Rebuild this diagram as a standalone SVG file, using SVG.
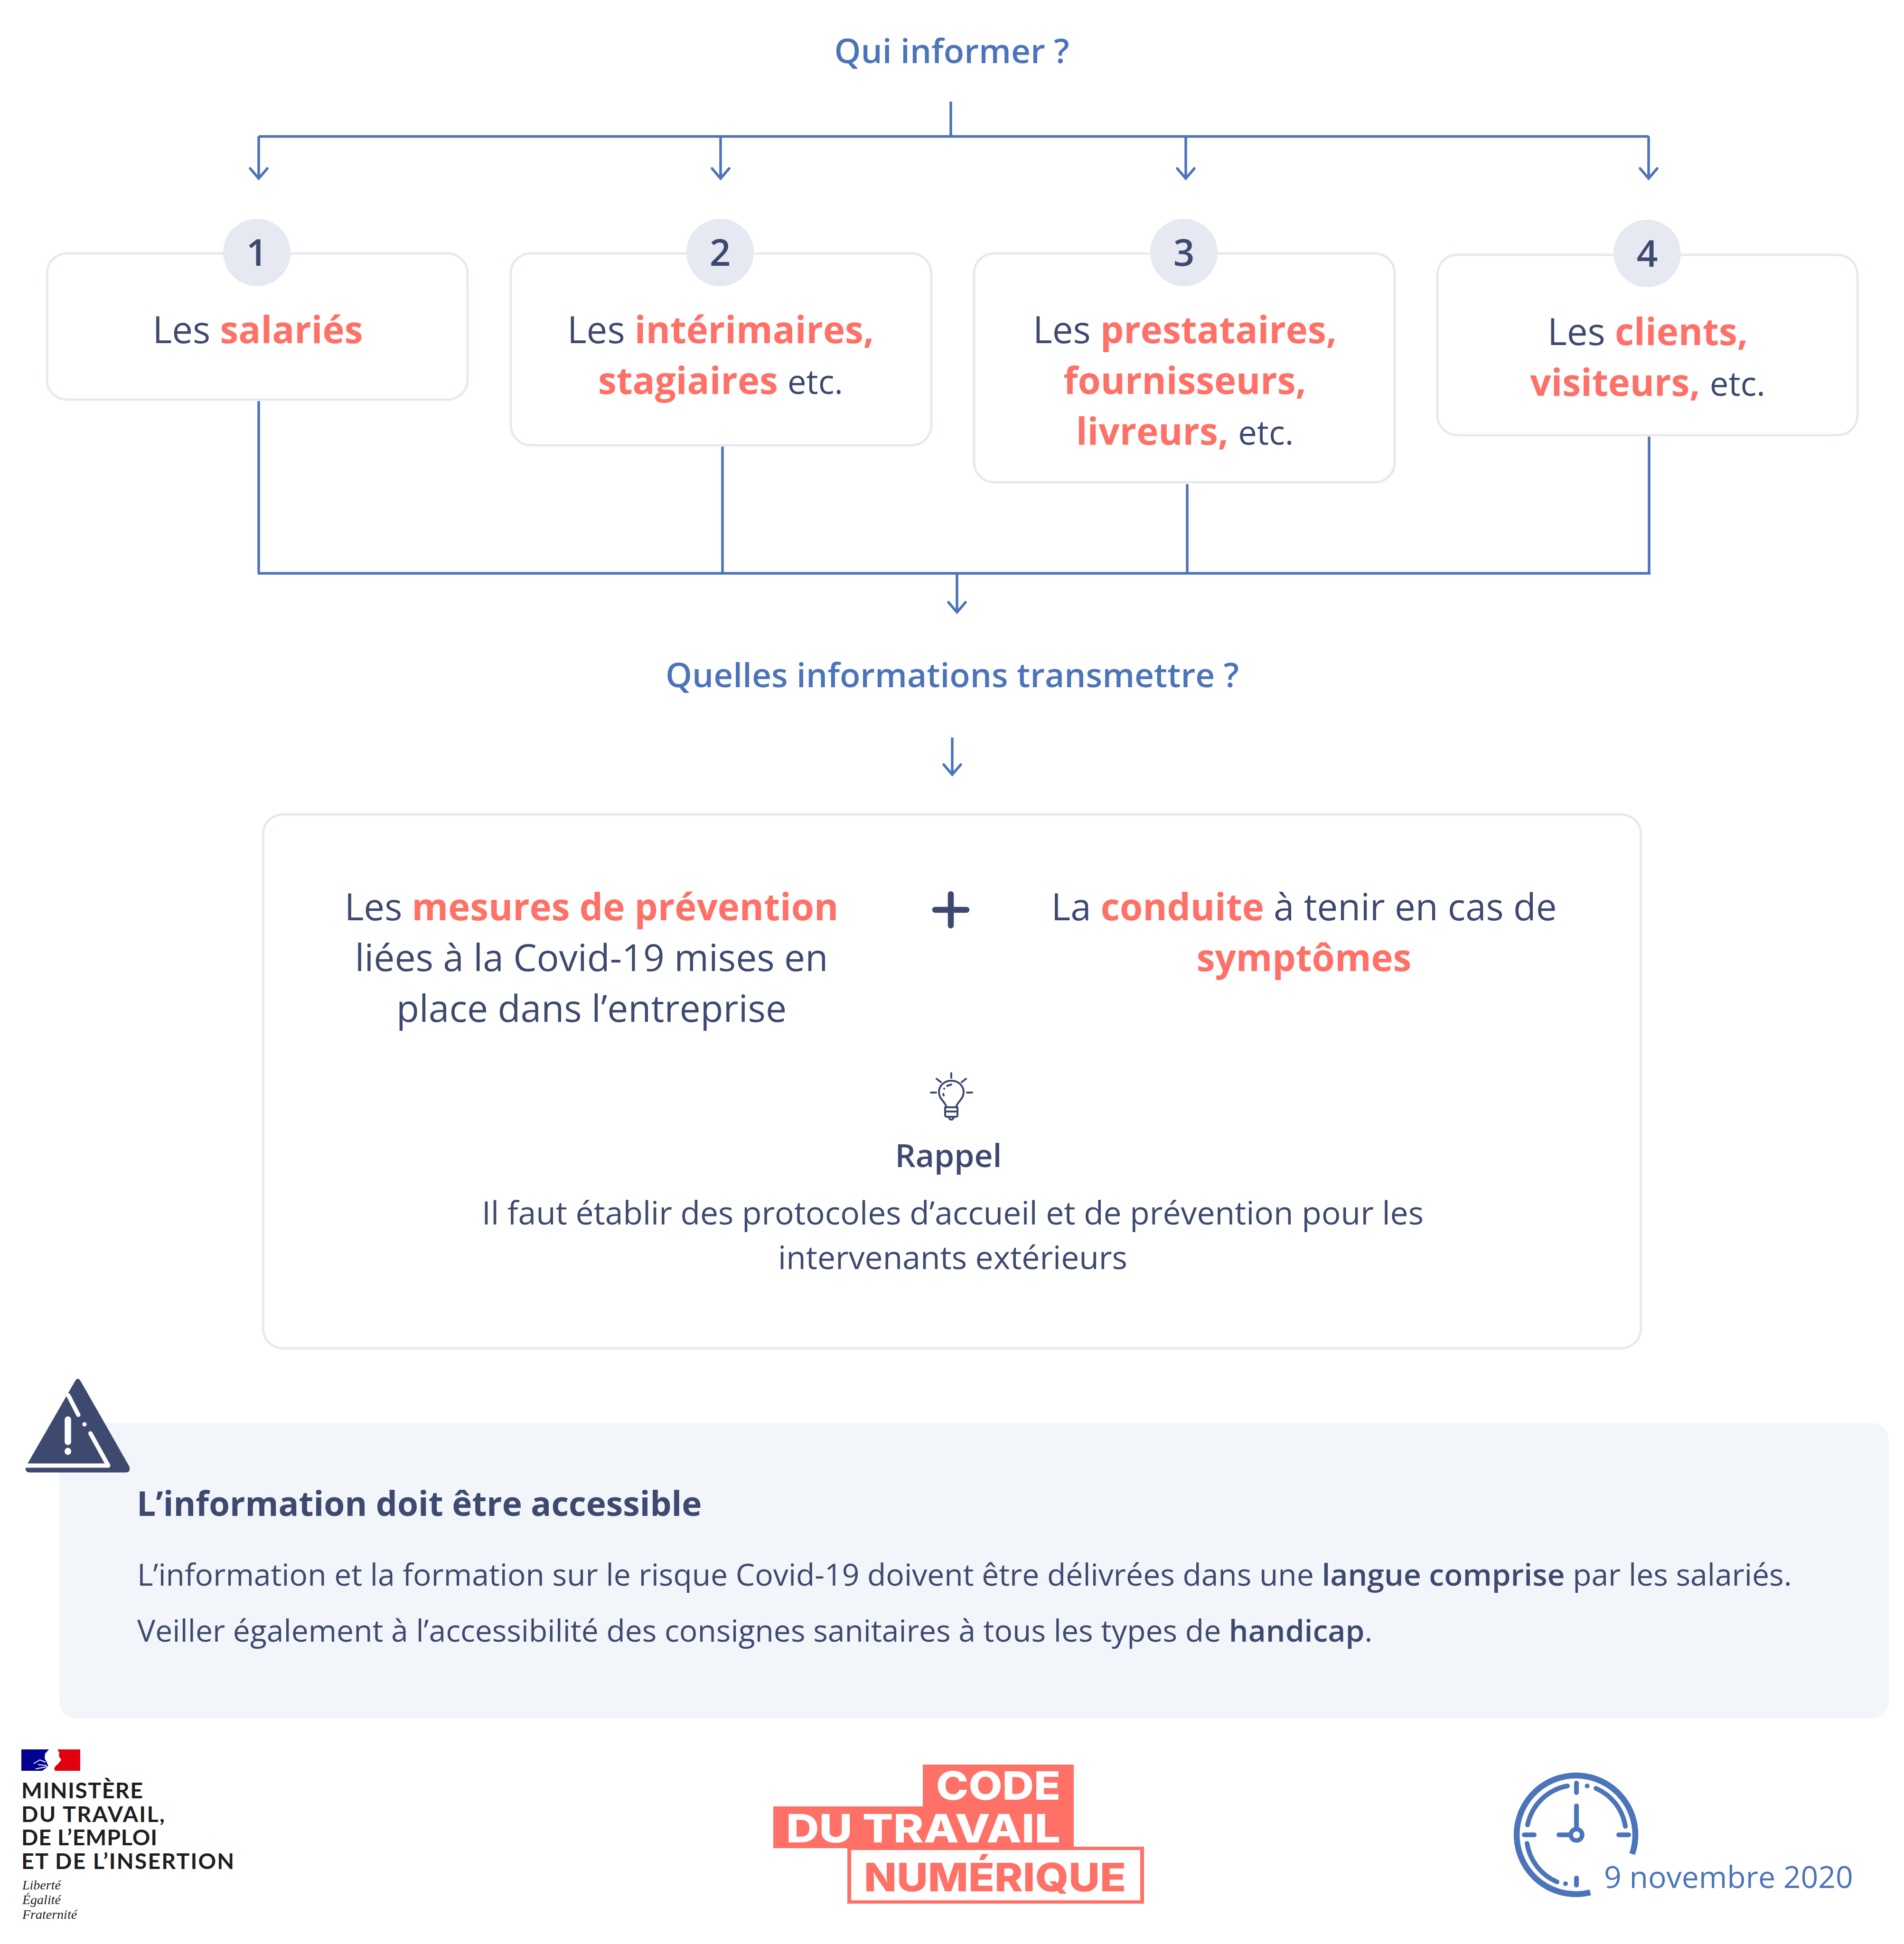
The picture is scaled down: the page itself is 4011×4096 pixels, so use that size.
<svg xmlns="http://www.w3.org/2000/svg" width="4011" height="4096" viewBox="0 0 4011 4096">
<defs>
<marker id="ah" markerUnits="userSpaceOnUse" markerWidth="60" markerHeight="60" refX="0" refY="0" orient="auto" viewBox="-30 -30 60 60">
<path d="M-21 -18 L0 0 L-21 18" fill="none" stroke="#4C74BA" stroke-width="5.500" stroke-linecap="round"/>
</marker>
</defs>
<style>
text{font-family:"Open Sans","Noto Sans",sans-serif;fill:#3E496F}
.m{text-anchor:middle}
.t{font-size:78px}
.r{font-size:78.500px}
.e{font-size:70.500px}
.h{font-size:71.200px;font-weight:600;fill:#4C74BA;text-anchor:middle}
.c{fill:#FF7067;font-weight:700}
.b{font-weight:600}
.n{font-size:78px;font-weight:600;text-anchor:middle}
.box{fill:#fff;stroke:#E6E9F1;stroke-width:5}
.dot{fill:#E6E9F1}
.s{font-size:67.800px}
.p{font-size:64.200px}
.ln{fill:none;stroke:#4C74BA;stroke-width:5.500}
.min{font-family:"Lato","Noto Sans",sans-serif;font-weight:700;font-size:46.500px;fill:#1E1E1E}
.dev{font-family:"Liberation Serif",serif;font-style:italic;font-size:28px;fill:#1E1E1E}
.cd{font-family:"Inter",sans-serif;font-weight:800;font-size:83px;fill:#fff}
.clk{fill:none;stroke:#4C74BA;stroke-linecap:round;stroke-width:10}
.bl{fill:none;stroke:#3E496F;stroke-width:4;stroke-linecap:round;stroke-linejoin:round}
</style>
<rect width="4011" height="4096" fill="#fff"/>

<g id="connectors">
<path class="ln" d="M2003 214V287"/>
<path class="ln" d="M545 287.500H3473"/>
<path class="ln" marker-end="url(#ah)" d="M545 287V376"/>
<path class="ln" marker-end="url(#ah)" d="M1518 287V376"/>
<path class="ln" marker-end="url(#ah)" d="M2498 287V376"/>
<path class="ln" marker-end="url(#ah)" d="M3473 287V376"/>
<path class="ln" d="M545 845V1208"/>
<path class="ln" d="M1522 941V1208"/>
<path class="ln" d="M2501 1020V1208"/>
<path class="ln" d="M3474 920V1208"/>
<path class="ln" d="M543 1208H3477"/>
<path class="ln" marker-end="url(#ah)" d="M2016 1208V1290"/>
<path class="ln" marker-end="url(#ah)" d="M2006 1554V1632"/>
</g>

<g id="title-qui"><text class="h" x="2005" y="132.500">Qui informer ?</text></g>

<g id="node-1">
<rect class="box" x="99" y="534" width="886" height="308" rx="42"/>
<circle class="dot" cx="541" cy="532" r="71"/>
<text class="n" x="541" y="560">1</text>
<text class="t m" x="543" y="723">Les <tspan class="c">salariés</tspan></text>
</g>
<g id="node-2">
<rect class="box" x="1076" y="534" width="886" height="404" rx="42"/>
<circle class="dot" cx="1517" cy="532" r="71"/>
<text class="n" x="1517" y="560">2</text>
<text class="t m" x="1518" y="723">Les <tspan class="c">intérimaires,</tspan></text>
<text class="t m" x="1518" y="830"><tspan class="c">stagiaires</tspan> <tspan class="e">etc.</tspan></text>
</g>
<g id="node-3">
<rect class="box" x="2052" y="534" width="886" height="482" rx="42"/>
<circle class="dot" cx="2494" cy="532" r="71"/>
<text class="n" x="2494" y="560">3</text>
<text class="t m" x="2496" y="723">Les <tspan class="c">prestataires,</tspan></text>
<text class="t m" x="2496" y="830"><tspan class="c">fournisseurs,</tspan></text>
<text class="t m" x="2496" y="937"><tspan class="c">livreurs,</tspan> <tspan class="e">etc.</tspan></text>
</g>
<g id="node-4">
<rect class="box" x="3028" y="537" width="885" height="380" rx="42"/>
<circle class="dot" cx="3470" cy="534" r="71"/>
<text class="n" x="3470" y="562">4</text>
<text class="t m" x="3471" y="727">Les <tspan class="c">clients,</tspan></text>
<text class="t m" x="3471" y="834"><tspan class="c">visiteurs,</tspan> <tspan class="e">etc.</tspan></text>
</g>

<g id="title-quelles"><text class="h" x="2006" y="1448">Quelles informations transmettre ?</text></g>

<g id="node-info">
<rect class="box" x="554" y="1716" width="2903" height="1125" rx="42"/>
<text class="t m" x="1246" y="1939">Les <tspan class="c">mesures de prévention</tspan></text>
<text class="r m" x="1246" y="2046">liées à la Covid-19 mises en</text>
<text class="r m" x="1246" y="2153">place dans l’entreprise</text>
<path d="M2003 1884V1950M1970 1917H2036" fill="none" stroke="#3E496F" stroke-width="12.500" stroke-linecap="round"/>
<text class="t m" x="2747" y="1939">La <tspan class="c">conduite</tspan> à tenir en cas de</text>
<text class="t m" x="2747" y="2046"><tspan class="c">symptômes</tspan></text>
<g id="bulb">
<path class="bl" d="M2004 2261V2271M1961 2302H1972M2037 2302H2048M1973 2273L1982 2280M2035 2273L2026 2280"/>
<path class="bl" d="M1994 2333C1992 2322 1978 2316 1978 2301C1978 2287 1990 2277 2004 2277C2018 2277 2030 2287 2030 2301C2030 2316 2016 2322 2014 2333Z"/>
<path class="bl" d="M1991 2333V2349Q1991 2353 1995 2353H2013Q2017 2353 2017 2349V2333M1991 2342H2017M1999 2354Q2000 2359 2004 2359Q2008 2359 2009 2354M1995 2288L2004 2285M1989 2293.500V2294M1987 2305L1988 2308"/>
</g>
<text class="s m" x="1998" y="2459" font-weight="600">Rappel</text>
<text class="s m" x="2007" y="2580">Il faut établir des protocoles d’accueil et de prévention pour les</text>
<text class="s m" x="2007" y="2674">intervenants extérieurs</text>
</g>

<g id="node-panel">
<rect x="125" y="2998" width="3854" height="623" rx="36" fill="#F2F5FA"/>
<text x="288" y="3194" font-size="71.300" font-weight="700">L’information doit être accessible</text>
<text class="p" x="289" y="3341">L’information et la formation sur le risque Covid-19 doivent être délivrées dans une <tspan class="b">langue comprise</tspan> par les salariés.</text>
<text class="p" x="289" y="3459">Veiller également à l’accessibilité des consignes sanitaires à tous les types de <tspan class="b">handicap</tspan>.</text>
<g id="warning">
<path d="M158 2911Q164 2900 170 2911L272 3090Q275 3102 266 3102H62Q52 3102 55 3090Z" fill="#3E496F" stroke="#3E496F" stroke-width="1"/>
<path d="M54 3088H228L190.500 3020M165 2981L144 2940" fill="none" stroke="#fff" stroke-width="9" stroke-linecap="round" stroke-linejoin="round"/>
<path d="M143 2991V3038" fill="none" stroke="#fff" stroke-width="13.500" stroke-linecap="round"/>
<ellipse cx="143" cy="3058" rx="7" ry="7.500" fill="#fff"/>
<circle cx="178" cy="3001" r="4.500" fill="#fff"/>
</g>
</g>

<g id="logo-ministere">
<path d="M45 3686H103L95 3695L94 3705L98 3712L102 3722L89 3731H45Z" fill="#000091"/>
<path d="M121 3686L125 3693L124 3700L129 3708L126 3712L122 3717L118 3720L114 3726L116 3731H169V3686Z" fill="#E1000F"/>
<path d="M71 3716L84 3708L96 3713M80 3718L98 3720M75 3727L102 3722" fill="none" stroke="#fff" stroke-width="2"/>
<text class="min" x="45" y="3789" textLength="256">MINISTÈRE</text>
<text class="min" x="45" y="3839" textLength="302">DU TRAVAIL,</text>
<text class="min" x="45" y="3888" textLength="286">DE L’EMPLOI</text>
<text class="min" x="45" y="3938" textLength="448">ET DE L’INSERTION</text>
<text class="dev" x="47" y="3981">Liberté</text>
<text class="dev" x="47" y="4012">Égalité</text>
<text class="dev" x="47" y="4043">Fraternité</text>
</g>

<g id="logo-cdtn">
<path d="M1944 3718H2262V3891H2410V4011H1785V3894H1629V3806H1944Z" fill="#FF7067"/>
<rect x="1793" y="3898" width="609" height="106" fill="#fff"/>
<text class="cd" x="1972" y="3792" textLength="262" lengthAdjust="spacingAndGlyphs">CODE</text>
<text class="cd" x="1656" y="3882" textLength="578" lengthAdjust="spacingAndGlyphs">DU TRAVAIL</text>
<text class="cd" style="fill:#FF7067" x="1820" y="3985" textLength="552" lengthAdjust="spacingAndGlyphs">NUMÉRIQUE</text>
</g>

<g id="date">
<path d="M3438.300 3906.500A125 125 0 1 0 3350.200 3987.300" fill="none" stroke="#4C74BA" stroke-width="12.500"/>
<path class="clk" d="M3218 3845A105 105 0 0 1 3302 3763M3362 3768A105 105 0 0 1 3424 3848M3217 3884A105 105 0 0 0 3280 3965M3321 3757V3777M3321 3957V3972M3211 3866H3232M3410 3866H3431M3321 3805V3850M3284 3866H3305"/>
<circle cx="3343.500" cy="3763" r="5" fill="#4C74BA"/>
<circle cx="3298" cy="3969" r="5" fill="#4C74BA"/>
<circle cx="3321" cy="3866" r="12" fill="#fff" stroke="#4C74BA" stroke-width="9.500"/>
<text x="3379" y="3978" font-size="64.300" style="fill:#4C74BA">9 novembre 2020</text>
</g>
</svg>
